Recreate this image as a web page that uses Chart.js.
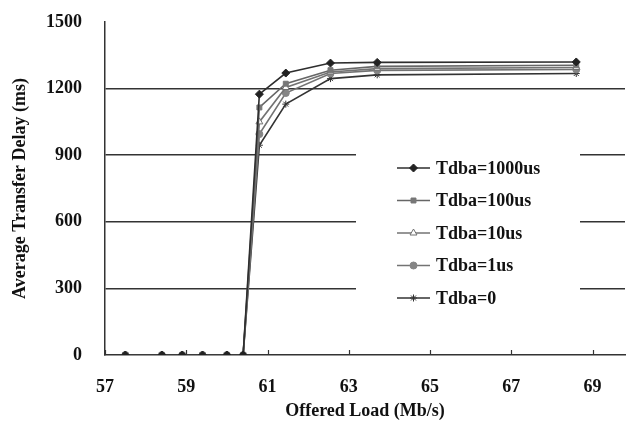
<!DOCTYPE html>
<html>
<head>
<meta charset="utf-8">
<script src="https://cdn.jsdelivr.net/npm/chart.js@4.4.0/dist/chart.umd.min.js"></script>
<style>
  html, body { margin: 0; padding: 0; background: #fff; overflow: hidden; }
  #wrap { width: 630px; height: 426px; position: relative; }
</style>
</head>
<body>
<div id="wrap"><canvas id="delayChart"></canvas></div>
<script>
// Offered load (Mb/s) of each measured point
const offeredLoad = [57.5, 58.4, 58.9, 59.4, 60.0, 60.4, 60.8, 61.45, 62.55, 63.7, 68.6];

// Average transfer delay (ms) for each Tdba setting
const delay1000us = [0, 0, 0, 0, 0, 0, 1175, 1270, 1315, 1318, 1320];
const delay100us  = [0, 0, 0, 0, 0, 0, 1115, 1222, 1283, 1300, 1305];
const delay10us   = [0, 0, 0, 0, 0, 0, 1050, 1205, 1275, 1290, 1295];
const delay1us    = [0, 0, 0, 0, 0, 0, 995, 1180, 1268, 1282, 1286];
const delay0      = [0, 0, 0, 0, 0, 0, 945, 1130, 1245, 1262, 1268];

const seriesLabels = ['Tdba=1000us', 'Tdba=100us', 'Tdba=10us', 'Tdba=1us', 'Tdba=0'];
const xTickValues = [57, 59, 61, 63, 65, 67, 69];
const yTickValues = [0, 300, 600, 900, 1200, 1500];

const FONT = { family: '"Liberation Serif", "Times New Roman", serif', size: 18, weight: 'bold' };

function toPoints(values) {
    return values.map((v, i) => ({ x: offeredLoad[i], y: v }));
}

// Legend drawn in a white box inside the plot
const boxLegend = {
    id: 'boxLegend',
    afterDraw(chart) {
        const ctx = chart.ctx;
        ctx.save();
        ctx.fillStyle = '#fff';
        ctx.fillRect(356, 140, 224, 176);
        chart.data.datasets.forEach((ds, i) => {
            const y = 168 + i * 32.5;
            ctx.strokeStyle = ds.borderColor;
            ctx.lineWidth = 1.5;
            ctx.beginPath();
            ctx.moveTo(397, y);
            ctx.lineTo(430, y);
            ctx.stroke();
            ctx.fillStyle = ds.pointBackgroundColor;
            ctx.strokeStyle = ds.pointBorderColor;
            ctx.lineWidth = 1;
            Chart.helpers.drawPoint(ctx, {
                pointStyle: ds.pointStyle,
                radius: ds.pointRadius,
                borderWidth: 1,
                rotation: 0
            }, 413.5, y);
            ctx.fillStyle = '#111';
            ctx.font = `bold ${FONT.size}px ${FONT.family}`;
            ctx.textBaseline = 'middle';
            ctx.textAlign = 'left';
            ctx.fillText(ds.label, 436, y + 1);
        });
        ctx.restore();
    }
};

// Small tick marks pointing up into the plot on the x axis
const innerTicks = {
    id: 'innerTicks',
    afterDraw(chart) {
        const ctx = chart.ctx;
        const xs = chart.scales.x;
        const bottom = chart.chartArea.bottom;
        ctx.save();
        ctx.strokeStyle = '#333';
        ctx.lineWidth = 1.2;
        xTickValues.forEach(v => {
            const px = Math.round(xs.getPixelForValue(v)) + 0.5;
            ctx.beginPath();
            ctx.moveTo(px, bottom);
            ctx.lineTo(px, bottom - 5);
            ctx.stroke();
        });
        ctx.restore();
    }
};

const ctx = document.getElementById('delayChart').getContext('2d');
const delayChart = new Chart(ctx, {
    type: 'line',
    data: {
        datasets: [
            {
                label: seriesLabels[0], data: toPoints(delay1000us),
                borderColor: '#2e2e2e', pointStyle: 'rectRot', pointRadius: 4,
                pointBackgroundColor: '#222', pointBorderColor: '#222'
            },
            {
                label: seriesLabels[1], data: toPoints(delay100us),
                borderColor: '#666', pointStyle: 'rect', pointRadius: 3.5,
                pointBackgroundColor: '#777', pointBorderColor: '#777'
            },
            {
                label: seriesLabels[2], data: toPoints(delay10us),
                borderColor: '#737373', pointStyle: 'triangle', pointRadius: 4,
                pointBackgroundColor: '#fff', pointBorderColor: '#707070'
            },
            {
                label: seriesLabels[3], data: toPoints(delay1us),
                borderColor: '#737373', pointStyle: 'circle', pointRadius: 3.5,
                pointBackgroundColor: '#858585', pointBorderColor: '#858585'
            },
            {
                label: seriesLabels[4], data: toPoints(delay0),
                borderColor: '#333', pointStyle: 'star', pointRadius: 3.5,
                pointBackgroundColor: '#333', pointBorderColor: '#333'
            }
        ]
    },
    options: {
        responsive: true,
        maintainAspectRatio: false,
        animation: false,
        layout: { padding: { top: 22, right: 0, bottom: 0, left: 0 } },
        elements: {
            line: { borderWidth: 1.6, tension: 0 },
            point: { borderWidth: 1 }
        },
        plugins: {
            legend: { display: false },
            tooltip: { enabled: false }
        },
        scales: {
            x: {
                type: 'linear',
                min: 57,
                max: 69.8,
                afterBuildTicks(scale) {
                    scale.ticks = xTickValues.map(v => ({ value: v }));
                },
                afterFit(scale) { scale.height = 71; },
                grid: { display: false, drawTicks: false },
                border: { display: true, color: '#333', width: 1.5 },
                ticks: { color: '#111', font: FONT, padding: 22, maxRotation: 0, callback: v => String(v) },
                title: {
                    display: true, text: 'Offered Load (Mb/s)',
                    color: '#111', font: FONT, padding: { top: 0, bottom: 4 }
                }
            },
            y: {
                min: 0,
                max: 1500,
                afterBuildTicks(scale) {
                    scale.ticks = yTickValues.map(v => ({ value: v }));
                },
                afterFit(scale) {
                    scale.width = 105;
                    scale.paddingTop = 0;
                    scale.paddingBottom = 0;
                },
                grid: {
                    drawTicks: false,
                    lineWidth: 1.5,
                    color: c => (c.tick && (c.tick.value === 0 || c.tick.value === 1500)) ? 'rgba(0,0,0,0)' : '#333'
                },
                border: { display: true, color: '#333', width: 1.5 },
                ticks: { color: '#111', font: FONT, padding: 23, callback: v => String(v) },
                title: {
                    display: true, text: 'Average Transfer Delay (ms)',
                    color: '#111', font: FONT, padding: { top: 10, bottom: 0 }
                }
            }
        }
    },
    plugins: [boxLegend, innerTicks]
});
</script>
</body>
</html>
